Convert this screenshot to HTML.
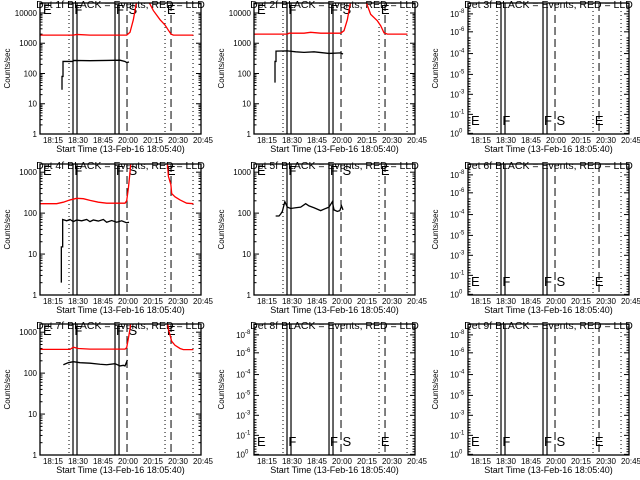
<!DOCTYPE html>
<html><head><meta charset="utf-8"><style>
body{margin:0;background:#fff;}
svg{display:block;font-family:"Liberation Sans",sans-serif;}
</style></head><body>
<svg id="c" width="640" height="480" viewBox="0 0 640 480"></svg>
<script>
const timeLabels=["18:15","18:30","18:45","20:00","20:15","20:30","20:45"];
const markerMinutes=[17.4,19.8,22.2,45,47.4,52.2,75,78.6,91.8];
const markerStyles=["dot","solid","solid","solid","solid","dash","dot","dash","dot"];
const letterText=["E","F","F","S","E"];
const letterMinutes=[1.2,20,45,52.5,75.5];
const detNames=["1f","2f","3f","4f","5f","6f","7f","8f","9f"];
// series data: [minute, counts/sec]
const p1Black=[[13.2,29],[13.2,80],[13.8,80],[13.8,250],[19.8,250],[20,270],[30,265],[40,270],[48,275],[51,250],[52,230],[53.4,240]];
const p1Red=[[0,1850],[20,1850],[22,1950],[30,1850],[52,1850],[54,2300],[56,6000],[58,25000],[65,25000],[68,12000],[72,6000],[75,4000],[77,2700],[78.6,2000],[80,1850],[92,1850]];
const p2Black=[[12.6,50],[12.6,250],[13.2,250],[13.2,550],[20,560],[25,520],[30,500],[36,520],[45,460],[52,480],[53.4,440]];
const p2Red=[[0,2000],[20,2000],[21,2150],[30,2150],[34,2300],[40,2150],[52,2150],[54,2600],[56,6000],[58,25000],[67,25000],[70,9000],[74,5500],[76,3800],[78,2200],[80,2000],[92,2000]];
const p4Black=[[12.8,2],[12.8,15],[13.6,15],[13.6,70],[16,65],[18,70],[20,62],[22,68],[25,65],[28,70],[30,62],[32,68],[35,64],[38,70],[40,60],[43,66],[46,60],[49,65],[52,58],[53.4,60]];
const p4Red=[[0,170],[10,170],[14,185],[18,210],[22,230],[26,225],[30,205],[35,185],[40,175],[51,175],[52,200],[53,400],[54,1000],[55,3000],[76,3000],[77,800],[78.5,500],[79,300],[81,250],[84,210],[88,175],[92,170]];
const p5Black=[[13,85],[15,85],[16,95],[17,110],[18.5,190],[20,140],[22,130],[25,135],[28,140],[31,170],[33,150],[36,135],[40,115],[43,130],[45,140],[47,190],[48,120],[50,110],[51.5,115],[52.5,150],[53.4,120]];
const p7Black=[[14,160],[17,180],[20,190],[24,180],[30,175],[36,165],[40,160],[45,170],[48,150],[50,155],[51,150],[52,190],[52.4,210]];
const p7Red=[[0,380],[18,380],[20,430],[23,400],[30,385],[51,385],[52,420],[53,700],[54,1200],[55,3000],[76,3000],[77,1200],[79,600],[81,480],[84,400],[86,375],[92,375]];
const panelSeries=[[p1Black,p1Red],[p2Black,p2Red],null,[p4Black,p4Red],[p5Black,null],null,[p7Black,p7Red],null,null];
const emptyExps=["-8","-6","-4","-5","-3","-1","0"];
const emptyFrac=[0.083,0.22,0.386,0.545,0.697,0.85,0.995];

const svg=document.getElementById('c');
const NS='http://www.w3.org/2000/svg';
function mk(tag,attrs,parent){const e=document.createElementNS(NS,tag);for(const k in attrs)e.setAttribute(k,attrs[k]);(parent||svg).appendChild(e);return e;}
const colL=[40,254,468],rowT=[3,164,324];
const W=161,PXMIN=1.667;
for(let i=0;i<9;i++){
  const L=colL[i%3],T=rowT[Math.floor(i/3)],H=Math.floor(i/3)===0?131:131;
  const g=mk('g',{});
  
  
  const xs=m=>L+m*PXMIN;
  const row=Math.floor(i/3);
  const decades=row===0?4.33:3.2;
  const ys=v=>T+H-(Math.log10(v)/decades)*H;
  const data=panelSeries[i];
  // title
  const t=mk('text',{x:L+W/2,y:T+5,'text-anchor':'middle','font-size':'10.5'},g);
  t.textContent='Det '+detNames[i]+' BLACK = Events, RED = LLD';
  
  
  const yt=mk('text',{transform:`translate(${L-30},${T+H/2}) rotate(-90)`,'text-anchor':'middle','font-size':'8'},g);
  yt.textContent='Counts/sec';
  
  
  const xt=mk('text',{x:L+W/2,y:T+H+18,'text-anchor':'middle','font-size':'9'},g);
  xt.textContent='Start Time (13-Feb-16 18:05:40)';
  
  
  timeLabels.forEach((s,k)=>{
    const x=L+13+25*k;
    const tl=mk('text',{x:x,y:T+H+9,'text-anchor':'middle','font-size':'8'},g);
    tl.textContent=s;
    
    
  });
  // y ticks
  if(data){
    const maxD=row===0?4:3;
    for(let d=0;d<=maxD;d++){
      const y=ys(Math.pow(10,d));
      const lab=mk('text',{x:L-3,y:y+3,'text-anchor':'end','font-size':'8'},g);
      lab.textContent=String(Math.pow(10,d));
      
      
      mk('line',{x1:L,x2:L+5,y1:y,y2:y,stroke:'#000'},g);
      mk('line',{x1:L+W-5,x2:L+W,y1:y,y2:y,stroke:'#000'},g);
      for(let m=2;m<10;m++){const v=m*Math.pow(10,d);if(Math.log10(v)>decades)break;const yy=ys(v);
        mk('line',{x1:L,x2:L+2.5,y1:yy,y2:yy,stroke:'#000'},g);mk('line',{x1:L+W-2.5,x2:L+W,y1:yy,y2:yy,stroke:'#000'},g);}
    }
  } else {
    emptyExps.forEach((e,k)=>{
      const y=T+H*emptyFrac[k];
      const lab=mk('text',{x:L-9,y:y+3,'text-anchor':'end','font-size':'8'},g);
      lab.textContent='10';
      
      
      const sup=mk('text',{x:L-9,y:y-1,'text-anchor':'start','font-size':'6'},g);
      sup.textContent=e;
      
      
      mk('line',{x1:L,x2:L+5,y1:y,y2:y,stroke:'#000'},g);
      mk('line',{x1:L+W-5,x2:L+W,y1:y,y2:y,stroke:'#000'},g);
      for(let q=1;q<7;q++){const yy=y-q*2.6;if(yy<T)break;mk('line',{x1:L+W-2.5,x2:L+W,y1:yy,y2:yy,stroke:'#000'},g);mk('line',{x1:L,x2:L+2.5,y1:yy,y2:yy,stroke:'#000'},g);}
    });
  }
  // markers
  markerMinutes.forEach((m,k)=>{
    const st=markerStyles[k];
    const ln=mk('line',{x1:xs(m),x2:xs(m),y1:T,y2:T+H,stroke:'#000','stroke-width':st==='solid'?1.2:1,'stroke-dasharray':st==='dot'?'1,3':(st==='dash'?'8,4':'none')},g);
    
    
  });
  letterText.forEach((s,k)=>{
    const ly=data?T+11:T+H-9;
    const lt=mk('text',{x:xs(letterMinutes[k])+1,y:ly,'font-size':'13'},g);
    lt.textContent=s;
    
    
  });
  // clip
  const cp=mk('clipPath',{id:'cp'+i},g);mk('rect',{x:L,y:T,width:W,height:H},cp);
  if(data){
    const [blk,red]=data;
    if(red){const pl=mk('polyline',{points:red.map(p=>xs(p[0])+','+ys(p[1])).join(' '),fill:'none',stroke:'#f00','stroke-width':1.3,'clip-path':`url(#cp${i})`},g);
      
      }
    if(blk){const pl=mk('polyline',{points:blk.map(p=>xs(p[0])+','+ys(p[1])).join(' '),fill:'none',stroke:'#000','stroke-width':1.3,'clip-path':`url(#cp${i})`},g);
      
      }
  }
  const fr=mk('rect',{x:L,y:T,width:W,height:H,fill:'none',stroke:'#000','stroke-width':1.3},g);
  
  
}
</script>
</body></html>
